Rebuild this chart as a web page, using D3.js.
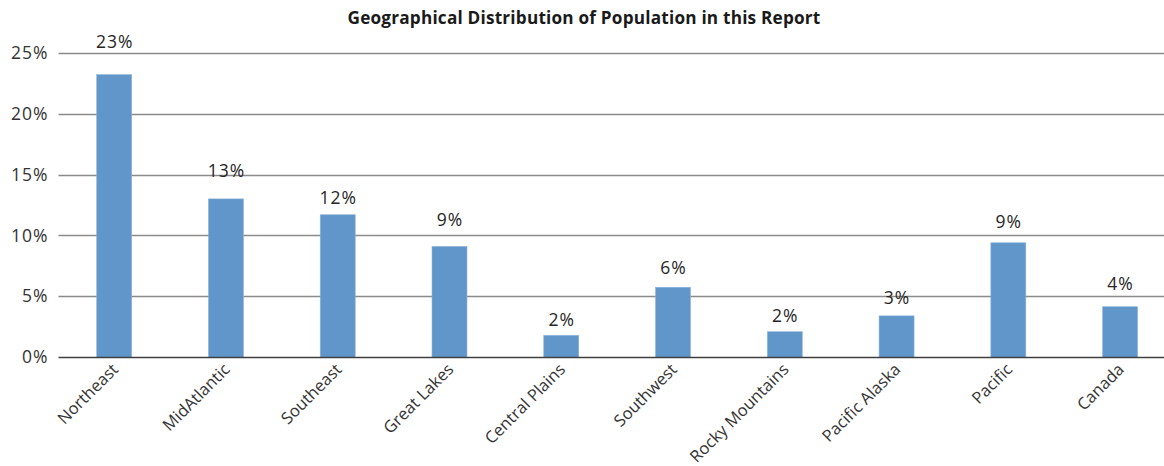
<!DOCTYPE html>
<html><head><meta charset="utf-8">
<script src="https://cdn.jsdelivr.net/npm/d3@7"></script>
<style>body{margin:0;background:#fff}svg{display:block}</style>
</head><body>
<script>
const categories = ["Northeast","MidAtlantic","Southeast","Great Lakes","Central Plains","Southwest","Rocky Mountains","Pacific Alaska","Pacific","Canada"];
const values = [23.2, 13.0, 11.7, 9.1, 1.8, 5.75, 2.1, 3.4, 9.4, 4.15];
const labels = ["23%","13%","12%","9%","2%","6%","2%","3%","9%","4%"];
const yTicks = [0,5,10,15,20,25];
const title = "Geographical Distribution of Population in this Report";

// layout: label baseline offsets above bar tops (px), as placed in the original
const labelOffsets = [27, 22, 11, 20, 9, 13, 10, 12, 15, 17];

const W = 1164, H = 466;
const font = "'Open Sans', 'Noto Sans', sans-serif";
const svg = d3.select("body").append("svg").attr("width", W).attr("height", H);

const x = d3.scaleBand().domain(categories).range([58.3, 1176]).paddingInner(0.687).paddingOuter(0.3435);
const y = d3.scaleLinear().domain([0,25]).range([357.3, 52.7]);

svg.append("text").attr("x", 584).attr("y", 24).attr("text-anchor","middle")
  .attr("font-family", font).attr("font-weight","bold").attr("font-size", 17.2)
  .attr("letter-spacing", 0.2).attr("fill","#1a1a1a").text(title);

const grid = svg.append("g");
grid.selectAll("line").data(yTicks.filter(d=>d>0)).join("line")
  .attr("x1",58.5).attr("x2",W).attr("y1",d=>Math.round(y(d))+0.5).attr("y2",d=>Math.round(y(d))+0.5)
  .attr("stroke","#8a8a8a").attr("stroke-width",1.3);

const yAxis = d3.axisLeft(y).tickValues(yTicks).tickFormat(d=>d+"%").tickSize(0).tickPadding(10);
const ga = svg.append("g").attr("transform","translate(58.5,0)").call(yAxis);
ga.select(".domain").remove();
ga.selectAll("text").attr("font-family",font).attr("font-size",17.5).attr("letter-spacing",1)
  .attr("fill","#333").attr("x",-10);

svg.selectAll("rect.bar").data(categories).join("rect").attr("class","bar")
  .attr("x", d=>x(d)).attr("width", x.bandwidth())
  .attr("y", (d,i)=>y(values[i])).attr("height",(d,i)=>y(0)-y(values[i]))
  .attr("fill","#6096c9").attr("stroke","#8fb4dc").attr("stroke-width",0.6);

svg.append("line").attr("x1",58.5).attr("x2",W).attr("y1",357.5).attr("y2",357.5)
  .attr("stroke","#404040").attr("stroke-width",1.5);

svg.selectAll("text.val").data(categories).join("text").attr("class","val")
  .attr("x", d=>x(d)+x.bandwidth()/2+0.5).attr("y",(d,i)=>y(values[i])-labelOffsets[i])
  .attr("text-anchor","middle").attr("font-family",font).attr("font-size",17.5).attr("letter-spacing",1)
  .attr("fill","#262626")
  .text((d,i)=>labels[i]);

const xAxis = d3.axisBottom(x).tickSize(0).tickPadding(0);
const gx = svg.append("g").attr("transform","translate(0,357.5)").call(xAxis);
gx.select(".domain").remove();
gx.selectAll("text").attr("font-family",font).attr("font-size",16.5).attr("fill","#333")
  .attr("text-anchor","end").attr("dy",0).attr("y",0)
  .attr("transform","translate(5,13) rotate(-45)");
</script>
</body></html>
